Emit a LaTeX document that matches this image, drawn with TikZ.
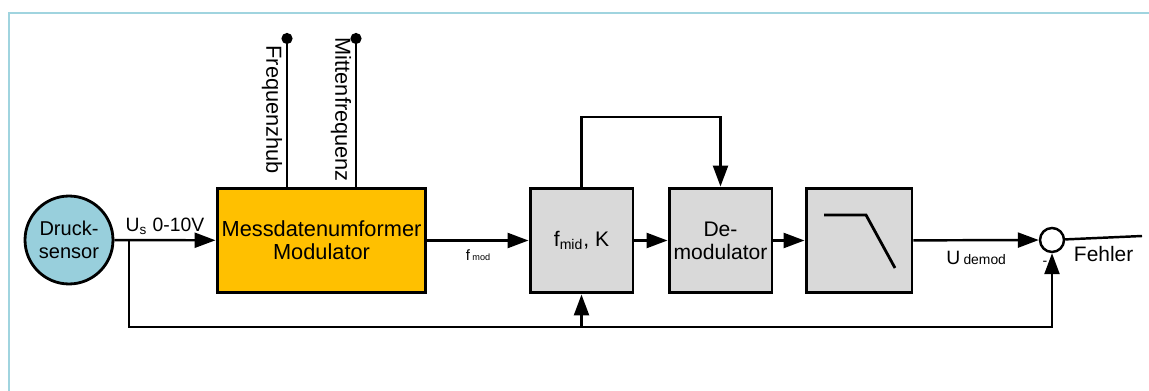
\documentclass[tikz,border=0pt]{standalone}
\usepackage{fontspec}
\setmainfont{Liberation Sans}
\usetikzlibrary{arrows.meta}
\definecolor{framecolor}{RGB}{160,212,223}
\definecolor{sensorcolor}{RGB}{152,207,220}
\definecolor{modcolor}{RGB}{255,192,0}
\definecolor{blockcolor}{RGB}{217,217,217}
\tikzstyle{wire}=[line width=1.4pt]
\tikzstyle{signal}=[wire, -{Triangle[length=0.42cm, width=0.3cm]}]
\tikzstyle{block}=[draw, line width=1.7pt, fill=blockcolor, minimum width=2.06cm, minimum height=2.1cm, inner sep=0, align=center, font=\fontsize{12}{13}\selectfont]
\tikzstyle{modulator block}=[block, fill=modcolor, minimum width=4.18cm, font=\fontsize{12.4}{14}\selectfont]
\tikzstyle{sensor}=[draw, circle, line width=1.6pt, fill=sensorcolor, minimum size=1.76cm, inner sep=0, align=center, font=\fontsize{11.4}{13.4}\selectfont]
\tikzstyle{sum point}=[draw, circle, line width=1.4pt, fill=white, minimum size=0.48cm, inner sep=0]
\tikzstyle{setting}=[wire, -{Circle[length=0.22cm]}]
\tikzstyle{setting label}=[rotate=-90, below, inner sep=2pt, font=\fontsize{12.4}{14}\selectfont]

\begin{document}
\begin{tikzpicture}[x=0.02cm, y=-0.02cm]
      \useasboundingbox (0,0) rectangle (1149,391);
      \draw[framecolor, line width=1.5pt] (9,391) -- (9,13) -- (1149,13);

      \node[sensor] (druck) at (69,240) {Druck-\\sensor};
      \node[modulator block] (mod) at (321.5,240.5) {Messdatenumformer\\[-1pt]Modulator};
      \node[block] (fmid) at (581.5,240.5) {f\textsubscript{mid}, K};
      \node[block] (demod) at (720.5,240.5) {De-\\modulator};
      \node[block, minimum width=2.12cm] (lp) at (859,240.5) {};
      \node[sum point] (sum) at (1052,240) {};

      \coordinate (tap) at (129,240);
      \coordinate (fb) at (129,327);
      \coordinate (top) at (650,117);
      \coordinate (hub) at (287,33);
      \coordinate (mitte) at (356,33);
      \coordinate (out) at (1142,236);

      % lowpass symbol
      \draw[line width=1.6pt] (824,215) -- (866,215) -- (895,268);

      \draw[signal] (druck) -- node[above, yshift=-1pt, font=\fontsize{11}{13}\selectfont] {U\textsubscript{s} 0-10V} (mod);
      \draw[setting] (hub |- mod.north) -- node[setting label] {Frequenzhub} (hub);
      \draw[setting] (mitte |- mod.north) -- node[setting label] {Mittenfrequenz} (mitte);
      \draw[signal] (mod) -- node[below, yshift=-1pt] {\fontsize{8.5}{10}\selectfont f\,{\fontsize{5.2}{6}\selectfont mod}} (fmid);
      \draw[signal] (fmid) -- (demod);
      \draw[signal] (fmid.north) |- (top) -| (demod.north);
      \draw[signal] (demod) -- (lp);
      \draw[signal] (lp) -- node[below, yshift=-2pt] {\fontsize{11}{13}\selectfont U\,{\fontsize{7.9}{9}\selectfont demod}} (sum);
      \draw[wire] (sum) -- node[below, yshift=-1pt, font=\fontsize{11.9}{14}\selectfont] {Fehler} (out);
      \draw[signal] (tap) -- (fb) -| node[at end, below left, xshift=-1pt, yshift=-3pt, inner sep=1pt, font=\fontsize{8}{9}\selectfont] {-} (sum.south);
      \draw[signal] (fmid.south |- fb) -- (fmid.south);
    \end{tikzpicture}
\end{document}
